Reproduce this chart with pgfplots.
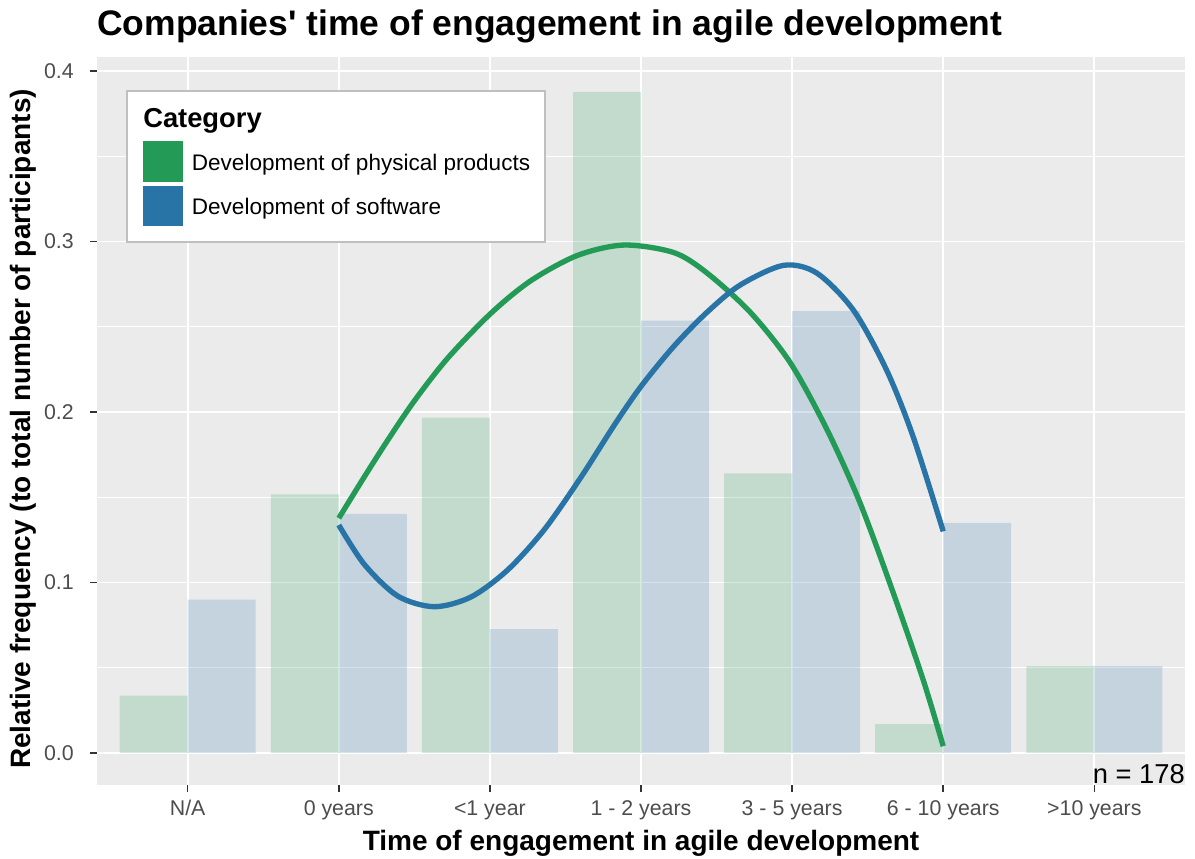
\documentclass[border=0pt]{standalone}
\usepackage{pgfplots}
\pgfplotsset{compat=1.18}
\usepackage{pgfplotstable}
\usepackage{fontspec}
\setmainfont{Liberation Sans}

\definecolor{pgreen}{RGB}{35,155,86}
\definecolor{sblue}{RGB}{41,116,166}
\definecolor{panelgray}{RGB}{235,235,235}
\definecolor{ticktext}{RGB}{77,77,77}
\definecolor{tickmark}{RGB}{51,51,51}

% relative frequencies per category (0 = N/A ... 6 = >10 years)
\pgfplotstableread{
x phys soft
0 0.0336 0.0899
1 0.1517 0.1402
2 0.1967 0.0727
3 0.3877 0.2536
4 0.1640 0.2592
5 0.0170 0.1349
6 0.0510 0.0510
}\freqdata

\begin{document}
\begin{tikzpicture}
\begin{axis}[
  width=816pt, height=546pt, scale only axis,
  xmin=-0.6, xmax=6.6, ymin=-0.01877, ymax=0.4082,
  axis background/.style={fill=panelgray},
  axis line style={draw=none},
  xtick={0,...,6},
  xticklabels={N/A, 0 years, <1 year, 1 - 2 years, 3 - 5 years, 6 - 10 years, >10 years},
  ytick={0,0.1,0.2,0.3,0.4},
  yticklabels={0.0,0.1,0.2,0.3,0.4},
  minor ytick={0.05,0.15,0.25,0.35},
  grid=both,
  major grid style={white, line width=1.4pt},
  minor grid style={white, line width=0.7pt},
  tick align=outside, tick pos=left,
  major tick length=5.25pt, minor tick length=0pt,
  major tick style={tickmark, line width=1.1pt},
  ticklabel style={font=\fontsize{16}{19}\selectfont, text=ticktext},
  xticklabel style={anchor=base, inner sep=0pt, yshift=-17.8pt},
  yticklabel style={anchor=east, inner sep=0pt, xshift=-12pt},
]
\addplot[ybar, bar width=0.45, bar shift=-0.225, fill=pgreen, fill opacity=0.2, draw=none]
  table[x=x, y=phys] {\freqdata};
\addplot[ybar, bar width=0.45, bar shift=0.225, fill=sblue, fill opacity=0.2, draw=none]
  table[x=x, y=soft] {\freqdata};

% fitted trend lines
\addplot[pgreen, line width=4pt, smooth, tension=0.5] coordinates {
(1.000,0.1377) (1.170,0.1621) (1.325,0.1836) (1.500,0.2065) (1.721,0.2316)
(2.007,0.2579) (2.271,0.2770) (2.579,0.2918) (2.887,0.2979) (3.217,0.2935)
(3.437,0.2815) (3.723,0.2585) (3.987,0.2290) (4.229,0.1900) (4.449,0.1468)
(4.669,0.0940) (4.867,0.0430) (5.000,0.0040)};
\addplot[sblue, line width=4pt, smooth, tension=0.5] coordinates {
(1.000,0.1337) (1.170,0.1105) (1.391,0.0920) (1.632,0.0858) (1.875,0.0915)
(2.117,0.1073) (2.358,0.1308) (2.601,0.1615) (2.821,0.1920) (3.000,0.2150)
(3.217,0.2385) (3.437,0.2585) (3.657,0.2745) (3.943,0.2860) (4.163,0.2815)
(4.405,0.2598) (4.625,0.2246) (4.801,0.1855) (5.000,0.1300)};
\end{axis}

% legend
\draw[draw=black!25, line width=1.5pt, fill=white] (22.3pt,407.5pt) rectangle (336pt,520.5pt);
\node[anchor=base west, inner sep=0pt, font=\fontsize{20.5}{24}\selectfont\bfseries] at (34.5pt,493.3pt) {Category};
\fill[pgreen] (34.5pt,452.5pt) rectangle (64.5pt,483pt);
\fill[sblue] (34.5pt,419pt) rectangle (64.5pt,449.5pt);
\node[anchor=base west, inner sep=0pt, font=\fontsize{16.9}{20}\selectfont] at (71pt,460.5pt) {Development of physical products};
\node[anchor=base west, inner sep=0pt, font=\fontsize{16.9}{20}\selectfont] at (71pt,428pt) {Development of software};

% titles
\node[anchor=base west, inner sep=0pt, font=\fontsize{26.6}{31}\selectfont\bfseries] at (0pt,561.75pt)
  {Companies\textquotesingle\ time of engagement in agile development};
\node[anchor=base, inner sep=0pt, font=\fontsize{21}{25}\selectfont\bfseries] at (408pt,-49.5pt)
  {Time of engagement in agile development};
\node[anchor=base, rotate=90, inner sep=0pt, font=\fontsize{21}{25}\selectfont\bfseries] at (-49.5pt,267pt)
  {Relative frequency (to total number of participants)};
\node[anchor=base east, inner sep=0pt, font=\fontsize{20.5}{24}\selectfont] at (816pt,1.25pt) {n = 178};

\pgfresetboundingbox
\path[use as bounding box] (-72.75pt,-55.5pt) rectangle (823.5pt,588.75pt);
\end{tikzpicture}
\end{document}
